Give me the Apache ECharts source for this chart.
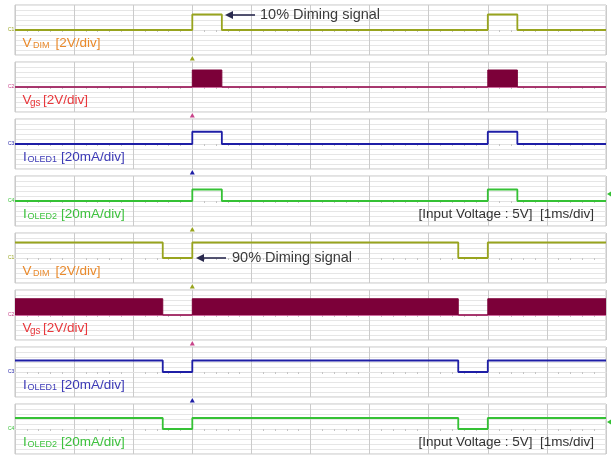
<!DOCTYPE html>
<html><head><meta charset="utf-8">
<script src="https://cdn.jsdelivr.net/npm/echarts@6/dist/echarts.min.js"></script>
<style>html,body{margin:0;padding:0;background:#fff}#c{width:614px;height:456px}</style>
</head><body><div id="c"></div><script>
// time axis: 10 divisions, 1 ms/div
const timeRange = [0, 10];
// 10% dimming case: step edges (div) and levels (vertical units, 1 unit = 1/10 panel)
const t10 = [0, 3, 3, 3.5, 3.5, 8, 8, 8.5, 8.5, 10];
const vdim10 = [0, 0, 3.1, 3.1, 0, 0, 3.1, 3.1, 0, 0];
const vgs10 = [0, 0, 3.4, 3.4, 0, 0, 3.4, 3.4, 0, 0];
const ioled1_10 = [0, 0, 2.45, 2.45, 0, 0, 2.45, 2.45, 0, 0];
const ioled2_10 = [0, 0, 2.3, 2.3, 0, 0, 2.3, 2.3, 0, 0];
// 90% dimming case
const t90 = [0, 2.5, 2.5, 3, 3, 7.5, 7.5, 8, 8, 10];
const vdim90 = [3.1, 3.1, 0, 0, 3.1, 3.1, 0, 0, 3.1, 3.1];
const vgs90 = [3.25, 3.25, 0, 0, 3.25, 3.25, 0, 0, 3.25, 3.25];
const ioled1_90 = [2.3, 2.3, 0, 0, 2.3, 2.3, 0, 0, 2.3, 2.3];
const ioled2_90 = [2.2, 2.2, 0, 0, 2.2, 2.2, 0, 0, 2.2, 2.2];
const triggerTime = 3;

const C = {
  dim: '#98a41e', dimLbl: '#ea8a2c',
  vgs: '#7c0039', vgsBase: '#c8448a', vgsLbl: '#e8383c',
  i1: '#1e1ea6', i1Lbl: '#3c3ab6',
  i2: '#35c135', i2Lbl: '#3ec23e'
};

const panels = [
  {t: t10, v: vdim10, color: C.dim, type: 'dim'},
  {t: t10, v: vgs10, color: C.vgs, type: 'vgs'},
  {t: t10, v: ioled1_10, color: C.i1, type: 'i1'},
  {t: t10, v: ioled2_10, color: C.i2, type: 'i2'},
  {t: t90, v: vdim90, color: C.dim, type: 'dim'},
  {t: t90, v: vgs90, color: C.vgs, type: 'vgs'},
  {t: t90, v: ioled1_90, color: C.i1, type: 'i1'},
  {t: t90, v: ioled2_90, color: C.i2, type: 'i2'}
];

const L = 15, R = 8, W = 614 - L - R, H = 50, STEP = 57, TOP0 = 5;
const FONT = 'Liberation Sans, Arial, sans-serif';
const grid = [], xAxis = [], yAxis = [], series = [], graphic = [];

panels.forEach((p, i) => {
  const top = TOP0 + STEP * i;
  grid.push({left: L, width: W, top: top, height: H, show: true, borderColor: '#c4c4c4', borderWidth: 1});
  xAxis.push({gridIndex: i, type: 'value', min: timeRange[0], max: timeRange[1], interval: 1,
    axisLabel: {show: false}, axisTick: {show: false},
    axisLine: {show: true, onZero: true, lineStyle: {color: '#e2e2e2'}},
    minorTick: {show: true, splitNumber: 5, length: 2, lineStyle: {color: '#c4c4c4'}},
    splitLine: {lineStyle: {color: '#cbcbcb', width: 1}}});
  yAxis.push({gridIndex: i, type: 'value', min: -5, max: 5, interval: 1,
    axisLabel: {show: false}, axisTick: {show: false}, axisLine: {show: false},
    splitLine: {lineStyle: {color: '#e6e6e6', width: 1}}});
  const data = p.t.map((x, k) => [x, p.v[k]]);
  if (p.type === 'vgs') {
    series.push({type: 'line', xAxisIndex: i, yAxisIndex: i, data: [[timeRange[0], 0], [timeRange[1], 0]],
      showSymbol: false, silent: true, lineStyle: {color: C.vgsBase, width: 1.5}, z: 2});
    series.push({type: 'line', xAxisIndex: i, yAxisIndex: i, data: data, showSymbol: false, silent: true,
      lineStyle: {color: p.color, width: 1}, areaStyle: {color: p.color, opacity: 1}, z: 3});
  } else {
    series.push({type: 'line', xAxisIndex: i, yAxisIndex: i, data: data, showSymbol: false, silent: true,
      lineStyle: {color: p.color, width: 1.8}, z: 3});
  }
  // channel ground marker
  const chColor = {dim: C.dim, vgs: C.vgsBase, i1: C.i1, i2: C.i2}[p.type];
  const chName = {dim: 'C1', vgs: 'C2', i1: 'C3', i2: 'C4'}[p.type];
  graphic.push({type: 'text', z: 100, x: 8, y: top + H / 2, style: {text: chName, fill: chColor, fontSize: 5, fontFamily: FONT, verticalAlign: 'middle'}});

  // panel labels
  const ly = top + 38;
  const lbl = (x, y, text, size, fill) => graphic.push({type: 'text', z: 100, x: x, y: y,
    style: {text: text, fill: fill, fontSize: size, fontFamily: FONT, verticalAlign: 'middle'}});
  if (p.type === 'dim') {
    lbl(22.5, ly, 'V', 13.5, C.dimLbl); lbl(33, ly + 3, 'DIM', 9, C.dimLbl); lbl(55.5, ly, '[2V/div]', 13.5, C.dimLbl);
  } else if (p.type === 'vgs') {
    lbl(22.5, ly, 'V', 13.5, C.vgsLbl); lbl(30, ly + 3, 'gs', 10, C.vgsLbl); lbl(43, ly, '[2V/div]', 13.5, C.vgsLbl);
  } else if (p.type === 'i1') {
    lbl(23, ly, 'I', 13.5, C.i1Lbl); lbl(27.5, ly + 3, 'OLED1', 9, C.i1Lbl); lbl(61, ly, '[20mA/div]', 13.5, C.i1Lbl);
  } else {
    lbl(23, ly, 'I', 13.5, C.i2Lbl); lbl(27.5, ly + 3, 'OLED2', 9, C.i2Lbl); lbl(61, ly, '[20mA/div]', 13.5, C.i2Lbl);
    graphic.push({type: 'text', z: 100, x: 594, y: ly, style: {text: '[Input Voltage : 5V]  [1ms/div]', fill: '#333', fontSize: 13.5, fontFamily: FONT, align: 'right', verticalAlign: 'middle'}});
    // right-edge channel reference marker
    graphic.push({type: 'polygon', z: 100, shape: {points: [[607, top + 18], [611, top + 15.5], [611, top + 20.5]]}, style: {fill: C.i2}});
  }
});

// trigger markers
const tx = L + W * (triggerTime - timeRange[0]) / (timeRange[1] - timeRange[0]);
const tri = (y, fill) => graphic.push({type: 'polygon', z: 100, shape: {points: [[tx, y - 2.5], [tx - 2.5, y + 2], [tx + 2.5, y + 2]]}, style: {fill: fill}});
const gap = i => TOP0 + STEP * i + H + 3.5;
tri(gap(0), C.dim); tri(gap(1), C.vgsBase); tri(gap(2), C.i1);
tri(gap(3), C.dim); tri(gap(4), C.dim); tri(gap(5), C.vgsBase); tri(gap(6), C.i1);

// annotations with arrows
const annot = (x1, x2, y, textX, text) => {
  graphic.push({type: 'line', z: 100, shape: {x1: x1 + 6, y1: y, x2: x2, y2: y}, style: {stroke: '#2a2a4e', lineWidth: 1.6}});
  graphic.push({type: 'polygon', z: 100, shape: {points: [[x1, y], [x1 + 8, y - 4], [x1 + 8, y + 4]]}, style: {fill: '#2a2a4e'}});
  graphic.push({type: 'text', z: 100, x: textX, y: y, style: {text: text, fill: '#3a3a3a', fontSize: 14.5, fontFamily: FONT, verticalAlign: 'middle'}});
};
annot(225, 255, 15, 260, '10% Diming signal');
annot(196, 226, 258, 232, '90% Diming signal');

const chart = echarts.init(document.getElementById('c'));
chart.setOption({animation: false, backgroundColor: '#fff', grid, xAxis, yAxis, series, graphic});
</script></body></html>
